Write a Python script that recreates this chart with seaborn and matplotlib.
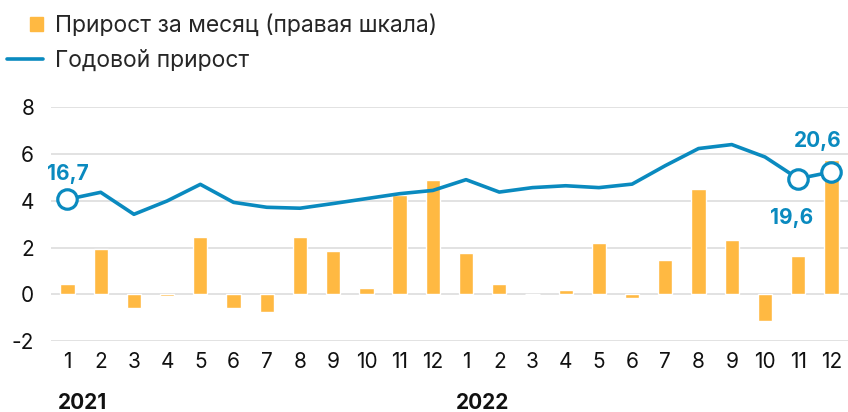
import numpy as np
import pandas as pd
import seaborn as sns
import matplotlib.pyplot as plt
from matplotlib.lines import Line2D
from matplotlib.patches import Rectangle, Patch
from matplotlib.legend_handler import HandlerPatch

# данные
months = [str(m) for m in range(1, 13)] * 2
years = ["2021", "2022"]
monthly = [0.45, 1.94, -0.58, -0.07, 2.45, -0.58, -0.75, 2.45, 1.84, 0.26, 4.25, 4.87,
           1.78, 0.44, 0.02, 0.17, 2.19, -0.14, 1.45, 4.49, 2.31, -1.15, 1.62, 5.74]
annual = [4.06, 4.36, 3.42, 3.99, 4.70, 3.93, 3.72, 3.68, 3.88, 4.09, 4.30, 4.44,
          4.90, 4.37, 4.56, 4.64, 4.56, 4.71, 5.50, 6.23, 6.40, 5.87, 4.94, 5.23]
marked = [0, 22, 23]
marked_labels = ["16,7", "19,6", "20,6"]

BAR = "#FFB942"
LINE = "#0A8ABF"

sns.set_theme(style="white")
plt.rcParams['font.family'] = ['Inter', 'DejaVu Sans']
plt.rcParams['axes.unicode_minus'] = False

df = pd.DataFrame({"pos": np.arange(len(months)), "monthly": monthly, "annual": annual})

fig = plt.figure(figsize=(8.48, 4.12), dpi=100)
ax = fig.add_axes([0.060, 0.172, 0.940, 0.568])

sns.barplot(data=df, x="pos", y="monthly", color=BAR, width=0.43, saturation=1,
            ax=ax, zorder=2)
sns.lineplot(data=df, x="pos", y="annual", color=LINE, linewidth=2.6, ax=ax, zorder=3)

# выделенные точки
ax.plot(df["pos"][marked], df["annual"][marked], "o", ms=14, mfc="white",
        mec=LINE, mew=2.3, zorder=4)
offsets = [(0, 18), (-5, -28), (-10, 22)]
for i, lab, off in zip(marked, marked_labels, offsets):
    ax.annotate(lab, (i, annual[i]), xytext=off, textcoords="offset points",
                ha="center", va="center", color=LINE, fontsize=15, fontweight="bold")

ax.set_xlim(-0.5, len(months) - 0.5)
ax.set_ylim(-2, 8)
ax.set_yticks(range(-2, 9, 2))
ax.set_xticks(df["pos"])
ax.set_xticklabels(months)
ax.set_xlabel("")
ax.set_ylabel("")
ax.yaxis.grid(True, color="#DDDDDD", linewidth=1.2, zorder=0)
ax.set_axisbelow(True)
for s in ax.spines.values():
    s.set_visible(False)
ax.tick_params(axis="both", length=0, labelsize=15, colors="#111111")
ax.tick_params(axis="y", pad=12)
ax.tick_params(axis="x", pad=8)

# подписи годов
for k, y in enumerate(years):
    ax.text(k * 12 - 0.3, -0.265, y, transform=ax.get_xaxis_transform(),
            fontsize=15, fontweight="bold", ha="left", va="center", color="#111111")


def small_square(legend, orig_handle, xdescent, ydescent, width, height, fontsize):
    s = 10
    return Rectangle((-xdescent + width - s, -ydescent + (height - s) / 2), s, s)


bar_handle = Patch(color=BAR)
handles = [bar_handle, Line2D([], [], color=LINE, lw=2.6)]
fig.legend(handles, ["Прирост за месяц (правая шкала)", "Годовой прирост"],
           loc="upper left", bbox_to_anchor=(0.008, 0.965), frameon=False,
           fontsize=16.5, handlelength=1.6, handletextpad=0.5, labelspacing=0.55,
           borderaxespad=0, borderpad=0,
           handler_map={bar_handle: HandlerPatch(patch_func=small_square)})

fig.savefig("out.png", dpi=100)
